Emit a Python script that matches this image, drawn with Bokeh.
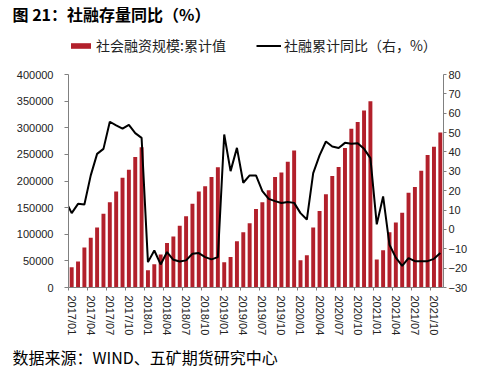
from bokeh.plotting import figure
from bokeh.models import (Range1d, LinearAxis, FixedTicker, Legend, LegendItem,
                          Title, ColumnDataSource, NumeralTickFormatter)
from bokeh.embed import file_html
from bokeh.resources import INLINE

# ---- data ----
months = [f"{y}/{m:02d}" for y in range(2017, 2022) for m in range(1, 13)][:59]

tsf_cum = [38000, 49000, 75000, 93500, 112500, 138500, 160000, 180500, 206000, 221000, 245000, 263500,
           32500, 43800, 62000, 83500, 96000, 116000, 134000, 157500, 180500, 190000, 207500, 226000,
           47500, 57500, 87000, 103700, 120500, 147500, 160000, 182500, 207500, 216000, 236000, 257500,
           51200, 60600, 112500, 143700, 175000, 209400, 226200, 262000, 298000, 311000, 332500, 350000,
           52500, 70000, 103700, 122000, 140600, 178000, 188700, 219400, 248700, 264400, 291000]

# line series starts at 2016/12 (first point falls just outside the plot frame)
yoy_months = ["2016/12"] + months
yoy = [15.0,
       8.4, 13.2, 12.9, 27.9, 39.0, 41.6, 55.6, 53.7, 52.0, 54.0, 49.7, 47.3,
       -16.9, -10.9, -18.1, -11.7, -15.7, -16.6, -16.0, -12.6, -12.2, -14.3, -15.5, -14.3,
       49.0, 30.1, 42.1, 24.1, 27.9, 27.9, 19.8, 15.8, 14.6, 13.6, 14.1, 13.7,
       8.4, 5.1, 29.1, 38.2, 45.4, 42.8, 42.0, 44.7, 44.2, 44.5, 41.6, 36.8,
       2.6, 17.0, -7.9, -14.6, -18.8, -14.8, -16.4, -16.4, -16.4, -15.2, -12.2]

tick_labels = ["2017/01", "2017/04", "2017/07", "2017/10", "2018/01", "2018/04", "2018/07",
               "2018/10", "2019/01", "2019/04", "2019/07", "2019/10", "2020/01", "2020/04",
               "2020/07", "2020/10", "2021/01", "2021/04", "2021/07", "2021/10"]

left_min, left_max = 0, 400000
right_min, right_max = -30, 80
left_ticks = [0, 50000, 100000, 150000, 200000, 250000, 300000, 350000, 400000]
right_ticks = [-30, -20, -10, 0, 10, 20, 30, 40, 50, 60, 70, 80]

title_text = "图 21：社融存量同比（%）"
bar_name = "社会融资规模:累计值"
line_name = "社融累计同比（右，%）"
source_text = "数据来源：WIND、五矿期货研究中心"

# ---- layout geometry (pixels) ----
W, H = 476, 374
B_LEFT, B_RIGHT, B_TOP, B_BOTTOM = 68, 33, 28, 87
AXIS_H = 213                       # height of the axis span inside the frame
FRAME_H = H - B_TOP - B_BOTTOM     # frame extends above the axes to host the legend
scale = FRAME_H / AXIS_H

# ---- build ----
bar_src = ColumnDataSource(dict(x=list(range(len(months))), v=tsf_cum))
line_src = ColumnDataSource(dict(x=[i - 1 for i in range(len(yoy_months))], v=yoy))

CJK = "Noto Sans CJK SC"
LAT = "Liberation Sans"
AXC = "#808080"
TXT = "#222222"

p = figure(width=W, height=H, output_backend="svg", toolbar_location=None,
           x_range=Range1d(-0.5, len(months) - 0.5),
           y_range=Range1d(left_min, left_min + (left_max - left_min) * scale),
           min_border_left=B_LEFT, min_border_right=B_RIGHT,
           min_border_top=B_TOP, min_border_bottom=B_BOTTOM)
p.extra_y_ranges = {"pct": Range1d(right_min, right_min + (right_max - right_min) * scale)}
p.xgrid.visible = False
p.ygrid.visible = False
p.outline_line_color = None
p.background_fill_color = "white"
p.border_fill_color = "white"

bars = p.vbar(x="x", top="v", width=0.62, source=bar_src, fill_color="#B2202B", line_color=None)
ln = p.line(x="x", y="v", source=line_src, y_range_name="pct", line_color="black", line_width=2)

# left axis
p.yaxis.ticker = FixedTicker(ticks=left_ticks)
p.yaxis.bounds = (left_min, left_max)
p.yaxis.formatter = NumeralTickFormatter(format="0")
p.yaxis.minor_tick_line_color = None
p.yaxis.axis_line_color = AXC
p.yaxis.major_tick_line_color = AXC
p.yaxis.major_tick_out = 4
p.yaxis.major_tick_in = 0
p.yaxis.major_label_text_font = LAT
p.yaxis.major_label_text_font_size = "11px"
p.yaxis.major_label_text_color = TXT
p.yaxis.major_label_standoff = 11

# right axis
ra = LinearAxis(y_range_name="pct", ticker=FixedTicker(ticks=right_ticks),
                bounds=(right_min, right_max))
ra.minor_tick_line_color = None
ra.axis_line_color = AXC
ra.major_tick_line_color = AXC
ra.major_tick_out = 3
ra.major_tick_in = 0
ra.major_label_text_font = LAT
ra.major_label_text_font_size = "11px"
ra.major_label_text_color = TXT
ra.major_label_standoff = 2
p.add_layout(ra, "right")

# bottom axis: labels at month centres, tick marks at category edges
tick_pos = [months.index(t) for t in tick_labels]
p.xaxis.ticker = FixedTicker(ticks=tick_pos, minor_ticks=[t - 0.5 for t in tick_pos])
p.xaxis.major_label_overrides = {i: t for i, t in zip(tick_pos, tick_labels)}
p.xaxis.major_label_orientation = "vertical"
p.xaxis.major_tick_line_color = None
p.xaxis.major_tick_out = 3
p.xaxis.major_tick_in = 0
p.xaxis.minor_tick_line_color = AXC
p.xaxis.minor_tick_out = 3
p.xaxis.minor_tick_in = 0
p.xaxis.axis_line_color = AXC
p.xaxis.major_label_text_font = LAT
p.xaxis.major_label_text_font_size = "11px"
p.xaxis.major_label_text_color = TXT
p.xaxis.major_label_standoff = 5

# title
p.title.text = title_text
p.title.text_font = CJK
p.title.text_font_size = "16px"
p.title.text_font_style = "bold"
p.title.text_color = "black"
p.title.align = "left"
p.title.offset = -56
p.title.standoff = 2
p.title.vertical_align = "top"

# legend (inside the upper, axis-free part of the frame)
legend = Legend(items=[LegendItem(label=bar_name, renderers=[bars]),
                       LegendItem(label=line_name, renderers=[ln])],
                orientation="horizontal", location=(0, 232),
                glyph_width=25, glyph_height=7, label_standoff=3, spacing=30,
                padding=0, margin=0, border_line_color=None, background_fill_alpha=0,
                label_text_font=CJK, label_text_font_size="14px", label_text_color=TXT)
p.add_layout(legend, "center")

# source note
src = Title(text=source_text, align="left", offset=-56, text_font=CJK,
            text_font_size="16px", text_font_style="normal", text_color="black", standoff=8)
p.add_layout(src, "below")

open("out.html", "w").write(file_html(p, INLINE))
